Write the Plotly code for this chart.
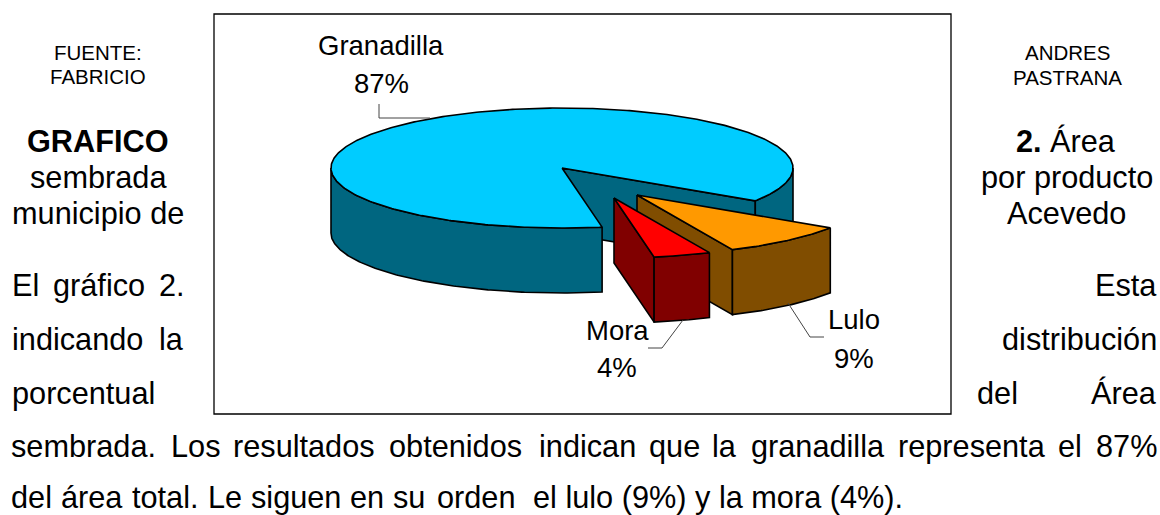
import math
import plotly.graph_objects as go

categories = ["Granadilla", "Lulo", "Mora"]
percent = [87, 9, 4]
top_colors = ["#00CCFF", "#FF9900", "#FF0000"]
side_colors = ["#006680", "#804D00", "#800000"]

# pie geometry (pixels in the page)
CX, CY, RX, RY, DEPTH = 562, 168, 231, 60, 65
START = 170.0  # clockwise from 12 o'clock
OFFSETS = [(0, 0), (75, 27), (52, 30)]

fig = go.Figure()


def pt(cw, ox, oy, dz=0):
    r = math.radians(cw)
    return (CX + ox + RX * math.sin(r), CY + oy - RY * math.cos(r) + dz)


def poly(points, color):
    xs = [p[0] for p in points] + [points[0][0]]
    ys = [p[1] for p in points] + [points[0][1]]
    fig.add_trace(go.Scatter(x=xs, y=ys, mode="lines", fill="toself", fillcolor=color,
                             line=dict(color="#000000", width=1.6), hoverinfo="skip", showlegend=False))


def arc(a0, a1, ox, oy, dz=0):
    n = max(2, int(abs(a1 - a0) * 1.5))
    return [pt(a0 + (a1 - a0) * i / n, ox, oy, dz) for i in range(n + 1)]


angle = START
for value, top, side, (ox, oy) in zip(percent, top_colors, side_colors, OFFSETS):
    a0, a1 = angle, angle + value * 3.6
    angle = a1
    apex = (CX + ox, CY + oy)
    apex_low = (apex[0], apex[1] + DEPTH)
    # cut walls: only the ones that face the viewer
    if (a0 % 360) > 180:
        e = pt(a0, ox, oy)
        poly([apex, e, (e[0], e[1] + DEPTH), apex_low], side)
    if (a1 % 360) < 180:
        e = pt(a1, ox, oy)
        poly([apex, e, (e[0], e[1] + DEPTH), apex_low], side)
    # outer wall: only the part that faces the viewer (90..270 clockwise, modulo 360)
    for k in (0, 1):
        lo = max(a0, 90 + 360 * k)
        hi = min(a1, 270 + 360 * k)
        if hi > lo:
            poly(arc(lo, hi, ox, oy) + arc(hi, lo, ox, oy, DEPTH), side)
    poly([apex] + arc(a0, a1, ox, oy), top)

# leader lines
leaders = [
    [(379, 104), (379, 118), (430, 118)],
    [(788, 303), (810, 337), (824, 337)],
    [(683, 320), (662, 348), (648, 348)],
]
for ln in leaders:
    fig.add_trace(go.Scatter(x=[p[0] for p in ln], y=[p[1] for p in ln], mode="lines",
                             line=dict(color="#444444", width=1), hoverinfo="skip", showlegend=False))

FONT = "Liberation Sans, Arial, sans-serif"
BODY = 30.7


def text(s, x, y, size=BODY, anchor="center"):
    fig.add_annotation(x=x, y=y, xref="x", yref="y", text=s, showarrow=False, xanchor=anchor,
                       yanchor="middle", borderpad=0, borderwidth=0,
                       font=dict(family=FONT, size=size, color="#000000"))


# data labels
for name, value, (lx, ly1, ly2) in zip(categories, percent, [(381, 45, 83), (854, 319, 358), (617, 330, 367)]):
    text(name, lx, ly1, 27.5)
    text(f"{value}%", lx, ly2, 27.5)

# surrounding document text
for s, x, y in [("FUENTE:", 98, 52), ("FABRICIO", 98, 76), ("ANDRES", 1067, 52), ("PASTRANA", 1067, 77)]:
    text(s, x, y, 20.5)
for s, x, y in [("<b>GRAFICO</b>", 98, 141.5), ("sembrada", 98, 177.5), ("municipio de", 98, 213.5),
                ("<b>2.</b> Área", 1066, 141.5), ("por producto", 1067, 177.5), ("Acevedo", 1066, 213.5)]:
    text(s, x, y, BODY)

# justified lines, word by word
for s, x in [("El", 12), ("gráfico", 53), ("2.", 159)]:
    text(s, x, 285.5, BODY, "left")
text("Esta", 1157, 285.5, BODY, "right")
for s, x in [("indicando", 12), ("la", 159)]:
    text(s, x, 339.5, BODY, "left")
text("distribución", 1157, 339.5, BODY, "right")
text("porcentual", 12, 393, BODY, "left")
text("del", 977, 393, BODY, "left")
text("Área", 1157, 393, BODY, "right")

for s, x in [("sembrada.", 11), ("Los", 171), ("resultados", 233), ("obtenidos", 389), ("indican", 539),
             ("que", 649), ("la", 712), ("granadilla", 751), ("representa", 898), ("el", 1058), ("87%", 1096)]:
    text(s, x, 446.5, BODY, "left")
for s, x in [("del", 11), ("área", 61), ("total.", 132), ("Le", 208), ("siguen", 251), ("en", 350), ("su", 393),
             ("orden", 437), ("el lulo (9%) y la mora (4%).", 533)]:
    text(s, x, 497, BODY, "left")

fig.add_shape(type="rect", x0=214, y0=14, x1=951, y1=414, xref="x", yref="y",
              line=dict(color="#000000", width=1.3), layer="below")

fig.update_layout(
    width=1160, height=515, autosize=False,
    margin=dict(l=0, r=0, t=0, b=0),
    paper_bgcolor="#FFFFFF", plot_bgcolor="#FFFFFF", showlegend=False,
    xaxis=dict(range=[0, 1160], visible=False, fixedrange=True),
    yaxis=dict(range=[515, 0], visible=False, fixedrange=True),
)
fig.write_html("out.html", config={"displayModeBar": False},
               post_script="document.body.style.margin='0';document.documentElement.style.overflow='hidden';")
